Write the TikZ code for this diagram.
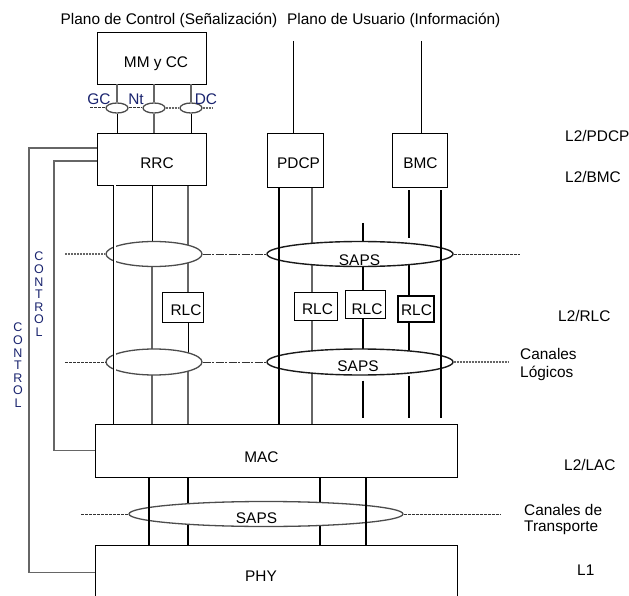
\documentclass[tikz,border=0pt]{standalone}
\usepackage{fontspec}
\setmainfont{Liberation Sans}
\usetikzlibrary{shapes.geometric}
\definecolor{ctlblue}{RGB}{25,35,110}
\pgfdeclarelayer{back}
\pgfsetlayers{back,main}

\begin{document}
\begin{tikzpicture}[x=1pt, y=-1pt,
  every node/.style={font=\fontsize{15.4}{17}\selectfont, inner sep=0pt},
  lbl/.style={anchor=base},
  box/.style={draw, line width=0.9pt},
  sap/.style={ellipse, draw=black!70, line width=1.3pt, fill=white},
  bline/.style={black, line width=0.9pt},
  tline/.style={black, line width=1.4pt},
  gline/.style={black!60, line width=1.1pt},
  dbl/.style={double, double distance=2pt, line width=0.5pt},
  ctlline/.style={black!60, line width=1.6pt},
  ctltxt/.style={font=\fontsize{12.5}{12.6}\selectfont, align=center, text=ctlblue, anchor=north},
  chainD/.style={black!80, line width=1pt, dash pattern=on 3pt off 1pt},
  chainO/.style={black!60, line width=1.3pt, dash pattern=on 2pt off 1pt},
  chainDD/.style={black!80, line width=1pt, dash pattern=on 8pt off 1.5pt on 2pt off 1.5pt}]

  \useasboundingbox (0,0) rectangle (629,596);

  %% Titles
  \node[lbl] (tctl) at (169,25) {Plano de Control (Señalización)};
  \node[lbl, anchor=base west] (tusr) at (287,25) {Plano de Usuario (Información)};

  %% Boxes
  \node[box, minimum width=109pt, minimum height=52pt] (mmcc) at (151.5,58) {};
  \node[box, minimum width=109pt, minimum height=52pt] (rrc) at (151.5,159) {};
  \node[box, minimum width=56pt, minimum height=54pt] (pdcp) at (295,160) {};
  \node[box, minimum width=55pt, minimum height=54pt] (bmc) at (419.5,160) {};
  \node[box, minimum width=41pt, minimum height=30pt] (rlcA) at (182.5,307) {};
  \node[box, minimum width=43pt, minimum height=28pt] (rlcB) at (315.5,306) {};
  \node[box, minimum width=40pt, minimum height=28pt] (rlcC) at (365,304) {};
  \node[box, line width=1.8pt, minimum width=36pt, minimum height=26pt] (rlcD) at (416,309) {};
  \node[box, minimum width=362pt, minimum height=53pt] (mac) at (276,450.5) {};
  \node[box, minimum width=362pt, minimum height=55pt] (phy) at (276,572.5) {};

  %% SAP ellipses
  \node[sap, minimum width=22pt, minimum height=10pt] (gc) at (117,108) {};
  \node[sap, minimum width=22pt, minimum height=10pt] (nt) at (154,108) {};
  \node[sap, minimum width=22pt, minimum height=10pt] (dc) at (191,108) {};
  \node[sap, minimum width=96pt, minimum height=25pt] (lcA) at (154,254) {};
  \node[sap, draw=black!90, line width=1.4pt, minimum width=186pt, minimum height=25pt] (sapsA) at (360,254) {};
  \node[sap, minimum width=96pt, minimum height=26pt] (lcB) at (154,362) {};
  \node[sap, draw=black!90, line width=1.4pt, minimum width=186pt, minimum height=26pt] (sapsB) at (360,362) {};
  \node[sap, minimum width=274pt, minimum height=25pt] (sapsT) at (266,514) {};

  % free ends
  \coordinate (pu) at (293,41);
  \coordinate (pb) at (421,41);
  \coordinate (u3) at (363,223);
  \coordinate (u4) at (409,238);
  \coordinate (uend) at (363,418);
  \coordinate (k1) at (29,148);
  \coordinate (k2) at (54,161);

  %% Lines hidden behind the ellipses
  \begin{pgfonlayer}{back}
    \draw[bline] (rrc.south -| 152,0) -- (lcA -| 152,0);
    \draw[gline] (lcA -| 152,0) -- (mac.north -| 152,0);
    \draw[gline] (rrc.south -| 188,0) -- (rlcA.north -| 188,0);
    \draw[bline] (rlcA.south -| 188,0) -- (lcB -| 188,0);
    \draw[gline] (lcB -| 188,0) -- (mac.north -| 188,0);
    \draw[gline] (pdcp.south -| 312,0) -- (rlcB.north -| 312,0);
    \draw[gline] (rlcB.south -| 312,0) -- (mac.north -| 312,0);
    \draw[tline] (u3) -- (rlcC.north -| u3);
    \draw[tline] (rlcC.south -| u3) -- (sapsB -| u3);
    \draw[tline] (sapsA -| u4) -- (rlcD.north -| u4);
    \draw[tline] (rlcD.south -| u4) -- (sapsB -| u4);
    \draw[tline] (mac.south -| 188,0) -- (phy.north -| 188,0);
    \draw[tline] (mac.south -| 320,0) -- (phy.north -| 320,0);
  \end{pgfonlayer}

  %% Control plane lines
  \draw[gline] (mmcc.south -| gc) -- (gc.north);
  \draw[gline] (mmcc.south -| nt) -- (nt.north);
  \draw[gline] (mmcc.south -| dc) -- (dc.north);
  \draw[bline] (gc.south) -- (gc.south |- rrc.north);
  \draw[gline] (nt.south) -- (nt.south |- rrc.north);
  \draw[bline] (dc.south) -- (dc.south |- rrc.north);
  \draw[dbl] (rrc.south -| 114.5,0) -- (mac.north -| 114.5,0);

  %% User plane lines
  \draw[bline] (pu) -- (pu |- pdcp.north);
  \draw[bline] (pb) -- (pb |- bmc.north);
  \draw[tline] (pdcp.south -| 279,0) -- (mac.north -| 279,0);
  \draw[tline] ([yshift=-3pt]bmc.south -| u4) -- (u4);
  \draw[tline] ([yshift=-3pt]bmc.south -| 441,0) -- (uend -| 441,0);
  \draw[tline] ([yshift=-5pt]sapsB.south -| u3) -- (uend);
  \draw[tline] (sapsB.south -| u4) -- (uend -| u4);

  %% MAC - PHY
  \draw[tline] (mac.south -| 149,0) -- (phy.north -| 149,0);
  \draw[tline] (mac.south -| 366,0) -- (phy.north -| 366,0);

  %% SAP chains
  \draw[chainD] (90,108) -- (gc.west);
  \draw[chainD] (gc.east) -- (nt.west);
  \draw[chainO] (nt.east) -- (dc.west);
  \draw[chainO] (dc.east) -- (213,108);
  \draw[chainO] (65,254) -- (lcA.west);
  \draw[chainDD] (lcA.east) -- (sapsA.west);
  \draw[chainD] (sapsA.east) -- (520,254);
  \draw[chainD] (65,362) -- (lcB.west);
  \draw[chainDD] (lcB.east) -- (sapsB.west);
  \draw[chainO] (sapsB.east) -- (508,362);
  \draw[chainD] (81,514) -- (sapsT.west);
  \draw[chainD] (sapsT.east) -- (500,514);

  %% Control links
  \draw[ctlline] (rrc.west |- k1) -- (k1) |- (phy.west);
  \draw[ctlline] (rrc.west |- k2) -- (k2) |- (mac.west);
  \node[ctltxt] (ctlin) at (39,252) {C\\O\\N\\T\\R\\O\\L};
  \node[ctltxt] (ctlout) at (18,323) {C\\O\\N\\T\\R\\O\\L};

  %% Labels
  \node[lbl] (lmmcc) at (156,68) {MM y CC};
  \node[lbl, text=ctlblue] (lgc) at (99,105) {GC};
  \node[lbl, text=ctlblue] (lnt) at (136,105) {Nt};
  \node[lbl, text=ctlblue] (ldc) at (206,105) {DC};
  \node[lbl] (lrrc) at (157,169) {RRC};
  \node[lbl] (lpdcp) at (298.5,169) {PDCP};
  \node[lbl] (lbmc) at (420.5,169) {BMC};
  \node[lbl] (lrlcA) at (186,315) {RLC};
  \node[lbl] (lrlcB) at (317.5,314) {RLC};
  \node[lbl] (lrlcC) at (367,314) {RLC};
  \node[lbl] (lrlcD) at (416.5,315.5) {RLC};
  \node[lbl] (lsapsA) at (359.5,265.5) {SAPS};
  \node[lbl] (lsapsB) at (358,371) {SAPS};
  \node[lbl] (lsapsT) at (256.5,523) {SAPS};
  \node[lbl] (lmac) at (261.5,462.5) {MAC};
  \node[lbl] (lphy) at (261,581.5) {PHY};

  %% Layer names
  \node[lbl, anchor=base west] (l2pdcp) at (565,141.5) {L2/PDCP};
  \node[lbl, anchor=base west] (l2bmc) at (565,183) {L2/BMC};
  \node[lbl, anchor=base west] (l2rlc) at (558,321.5) {L2/RLC};
  \node[anchor=north west, align=left, font=\fontsize{15.4}{18}\selectfont] (clog) at (520,348) {Canales\\Lógicos};
  \node[lbl, anchor=base west] (l2lac) at (564,470) {L2/LAC};
  \node[anchor=north west, align=left, font=\fontsize{15.4}{16}\selectfont] (ctra) at (524,504) {Canales de\\Transporte};
  \node[lbl, anchor=base west] (l1) at (577,575) {L1};

\end{tikzpicture}
\end{document}
